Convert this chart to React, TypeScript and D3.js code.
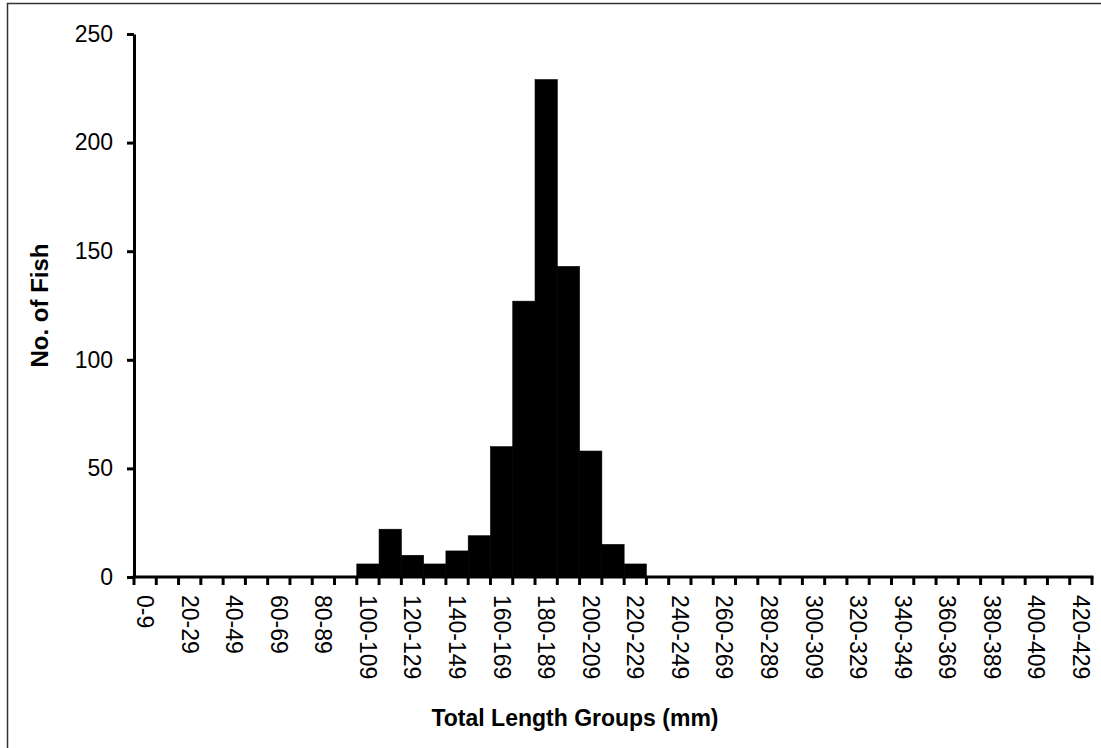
import { useEffect, useRef } from "react";
import * as d3 from "d3";

// length groups 0-9 ... 420-429 (mm)
const GROUP_STARTS = d3.range(0, 430, 10);
const GROUPS = GROUP_STARTS.map((s) => `${s}-${s + 9}`);

// counts, groups not listed are 0
const COUNT_GROUPS = [
  "100-109", "110-119", "120-129", "130-139", "140-149", "150-159",
  "160-169", "170-179", "180-189", "190-199", "200-209", "210-219", "220-229"
];
const COUNT_VALUES = [6, 22, 10, 6, 12, 19, 60, 127, 229, 143, 58, 15, 6];

const Y_TICKS = [0, 50, 100, 150, 200, 250];

const W = 1101;
const H = 748;
const margin = { top: 34, right: 9, bottom: 171, left: 134 };
const FONT = "'Liberation Sans', Arial, sans-serif";

export default function App() {
  const svgRef = useRef<SVGSVGElement>(null);

  useEffect(() => {
    if (!svgRef.current) return;
    const svg = d3.select(svgRef.current);
    svg.selectAll("*").remove();

    const countMap = new Map(COUNT_GROUPS.map((g, i) => [g, COUNT_VALUES[i]]));
    const data = GROUPS.map((g) => ({ group: g, count: countMap.get(g) ?? 0 }));

    const x = d3
      .scaleBand<string>()
      .domain(GROUPS)
      .range([margin.left, W - margin.right])
      .paddingInner(0)
      .paddingOuter(0);
    const y = d3.scaleLinear().domain([0, 250]).range([H - margin.bottom, margin.top]);

    // outer frame (only left/top edges fall inside the picture)
    svg.append("rect")
      .attr("x", 7.5)
      .attr("y", 3.5)
      .attr("width", W + 20)
      .attr("height", H + 20)
      .attr("fill", "none")
      .attr("stroke", "#333")
      .attr("stroke-width", 1.5);

    // bars, stroked so neighbours fuse without seams
    svg.append("g")
      .selectAll("rect")
      .data(data.filter((d) => d.count > 0))
      .join("rect")
      .attr("x", (d) => x(d.group)!)
      .attr("width", x.bandwidth())
      .attr("y", (d) => y(d.count))
      .attr("height", (d) => y(0) - y(d.count))
      .attr("fill", "#000")
      .attr("stroke", "#000")
      .attr("stroke-width", 0.6);

    // y axis
    const yAxis = svg.append("g")
      .attr("transform", `translate(${margin.left},0)`)
      .call(d3.axisLeft(y).tickValues(Y_TICKS).tickSize(7).tickPadding(14).tickSizeOuter(0));
    yAxis.select(".domain").attr("stroke", "#000").attr("stroke-width", 3);
    yAxis.selectAll(".tick line").attr("stroke", "#000").attr("stroke-width", 3);
    yAxis.selectAll(".tick text")
      .attr("font-family", FONT)
      .attr("font-size", 23)
      .attr("fill", "#000");

    // x axis: ticks on group boundaries
    const baseY = y(0);
    const xg = svg.append("g");
    xg.append("line")
      .attr("x1", margin.left - 1.5)
      .attr("x2", W - margin.right + 1.5)
      .attr("y1", baseY)
      .attr("y2", baseY)
      .attr("stroke", "#000")
      .attr("stroke-width", 3);
    const bounds = GROUPS.map((g) => x(g)!).concat([x.range()[1]]);
    xg.selectAll(".xt")
      .data(bounds)
      .join("line")
      .attr("class", "xt")
      .attr("x1", (d) => d)
      .attr("x2", (d) => d)
      .attr("y1", baseY)
      .attr("y2", baseY + 8)
      .attr("stroke", "#000")
      .attr("stroke-width", 3);

    xg.selectAll(".xl")
      .data(GROUPS.filter((_, i) => i % 2 === 0))
      .join("text")
      .attr("class", "xl")
      .attr("transform", (d) => `translate(${x(d)! + x.bandwidth() / 2},${baseY + 18}) rotate(90)`)
      .attr("text-anchor", "start")
      .attr("dominant-baseline", "central")
      .attr("font-family", FONT)
      .attr("font-size", 23)
      .attr("fill", "#000")
      .text((d) => d);

    // axis titles
    svg.append("text")
      .attr("x", (margin.left + W - margin.right) / 2 - 38)
      .attr("y", 726)
      .attr("text-anchor", "middle")
      .attr("font-family", FONT)
      .attr("font-weight", "bold")
      .attr("font-size", 23)
      .attr("fill", "#000")
      .text("Total Length Groups (mm)");

    svg.append("text")
      .attr("transform", `translate(48,${(margin.top + H - margin.bottom) / 2}) rotate(-90)`)
      .attr("text-anchor", "middle")
      .attr("font-family", FONT)
      .attr("font-weight", "bold")
      .attr("font-size", 24)
      .attr("fill", "#000")
      .text("No. of Fish");
  }, []);

  return (
    <svg
      ref={svgRef}
      width={W}
      height={H}
      style={{ position: "absolute", left: 0, top: 0, background: "#fff", display: "block" }}
    />
  );
}
